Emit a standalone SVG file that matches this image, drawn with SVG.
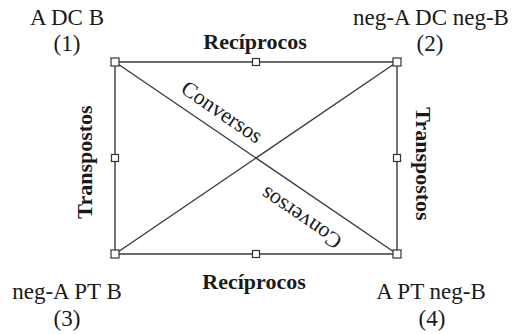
<svg xmlns="http://www.w3.org/2000/svg" width="513" height="334" viewBox="0 0 513 334">
  <style>
    .lbl { font-family: "Liberation Serif", "Times New Roman", serif; font-size: 23px; fill: #1a1a1a; text-anchor: middle; }
    .edge { stroke: #3a3a3a; stroke-width: 1.4; fill: none; }
    .bold { font-family: "Liberation Serif", "Times New Roman", serif; font-size: 22px; font-weight: bold; fill: #1a1a1a; text-anchor: middle; }
    .conv { font-family: "Liberation Serif", "Times New Roman", serif; font-size: 22px; fill: #1a1a1a; text-anchor: middle; }
    .hdl { fill: #ffffff; stroke: #333333; stroke-width: 1.2; }
  </style>
  <rect width="513" height="334" fill="#ffffff"/>

  <g id="connectors">
    <line class="edge" x1="115" y1="62" x2="397" y2="62"/>
    <line class="edge" x1="115" y1="254" x2="397" y2="254"/>
    <line class="edge" x1="115" y1="62" x2="115" y2="254"/>
    <line class="edge" x1="397" y1="62" x2="397" y2="254"/>
    <line class="edge" x1="115" y1="62" x2="397" y2="254"/>
    <line class="edge" x1="397" y1="62" x2="115" y2="254"/>
    <rect class="hdl" x="252.5" y="58.5" width="7" height="7"/>
    <rect class="hdl" x="252.5" y="250.5" width="7" height="7"/>
    <rect class="hdl" x="111.5" y="154.5" width="7" height="7"/>
    <rect class="hdl" x="393.5" y="154.5" width="7" height="7"/>
    <text class="bold" x="255" y="49">Recíprocos</text>
    <text class="bold" x="254" y="289">Recíprocos</text>
    <text class="bold" transform="translate(92,162) rotate(-90)">Transpostos</text>
    <text class="bold" transform="translate(416,164) rotate(90)">Transpostos</text>
    <text class="conv" transform="translate(218,118) rotate(34.25)">Conversos</text>
    <text class="conv" transform="translate(305,212) rotate(214.25)">Conversos</text>
  </g>

  <g id="node1">
    <rect class="hdl" x="111" y="58" width="8" height="8"/>
    <text class="lbl" x="67" y="25">A DC B</text>
    <text class="lbl" x="67" y="51">(1)</text>
  </g>
  <g id="node2">
    <rect class="hdl" x="393" y="58" width="8" height="8"/>
    <text class="lbl" x="431" y="25">neg-A DC neg-B</text>
    <text class="lbl" x="430" y="51">(2)</text>
  </g>
  <g id="node3">
    <rect class="hdl" x="111" y="250" width="8" height="8"/>
    <text class="lbl" x="67" y="299">neg-A PT B</text>
    <text class="lbl" x="67" y="326">(3)</text>
  </g>
  <g id="node4">
    <rect class="hdl" x="393" y="250" width="8" height="8"/>
    <text class="lbl" x="431" y="299">A PT neg-B</text>
    <text class="lbl" x="432" y="326">(4)</text>
  </g>
</svg>
